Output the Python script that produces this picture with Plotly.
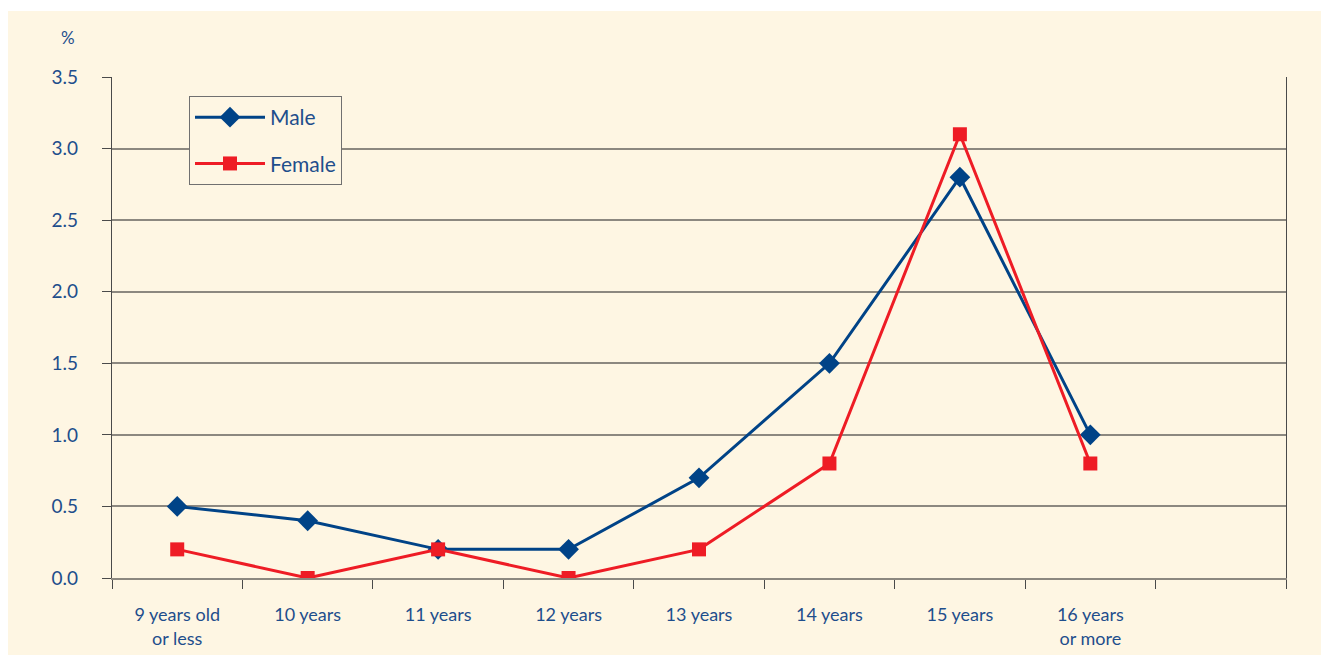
import plotly.graph_objects as go

categories = ["9 years old<br>or less", "10 years", "11 years", "12 years", "13 years",
              "14 years", "15 years", "16 years<br>or more"]
male = [0.5, 0.4, 0.2, 0.2, 0.7, 1.5, 2.8, 1.0]
female = [0.2, 0.0, 0.2, 0.0, 0.2, 0.8, 3.1, 0.8]
y_ticks = [0.0, 0.5, 1.0, 1.5, 2.0, 2.5, 3.0, 3.5]

xpos = list(range(len(categories)))
n_slots = 9
boundaries = [i - 0.5 for i in range(n_slots + 1)]

cream = "#FEF6E3"
text_blue = "#1E4E8C"
male_col = "#004387"
female_col = "#EE1C25"
grid_col = "#8C8880"
axis_col = "#4A4A4A"
font_family = "Lato, 'Noto Sans', sans-serif"

fig = go.Figure()
fig.add_trace(go.Scatter(
    x=xpos, y=male, name="Male", mode="lines+markers",
    line=dict(color=male_col, width=3),
    marker=dict(symbol="diamond", size=16, color=male_col),
    legendgroup="m",
))
fig.add_trace(go.Scatter(
    x=xpos, y=female, name="Female", mode="lines+markers",
    line=dict(color=female_col, width=3),
    marker=dict(symbol="square", size=14, color=female_col),
    legendgroup="f",
))

fig.update_layout(
    width=1321, height=655,
    margin=dict(l=112, r=35, t=77, b=77, autoexpand=False),
    paper_bgcolor="white",
    plot_bgcolor=cream,
    font=dict(family=font_family, color=text_blue, size=18),
    showlegend=True,
    legend=dict(
        x=(189 - 112) / 1174, y=(578 - 96) / 501, xanchor="left", yanchor="top",
        bgcolor=cream, bordercolor="#707070", borderwidth=1,
        font=dict(size=21, color=text_blue),
        tracegroupgap=16,
        itemwidth=70,
    ),
    shapes=[dict(
        type="rect", xref="paper", yref="paper", layer="below",
        x0=(8 - 112) / 1174, x1=(1321 - 112) / 1174 + 0.01,
        y0=(578 - 655) / 501 - 0.01, y1=(578 - 11) / 501,
        fillcolor=cream, line=dict(width=0),
    )],
    annotations=[dict(
        text="%", xref="paper", yref="paper",
        x=(68 - 112) / 1174, y=(578 - 37) / 501,
        xanchor="center", yanchor="middle", showarrow=False,
        font=dict(size=17, color=text_blue),
    )],
)

fig.update_xaxes(
    automargin=False,
    range=[-0.5, n_slots - 0.5],
    tickmode="array", tickvals=xpos, ticktext=categories,
    ticks="", showgrid=False, zeroline=False,
    showline=True, linecolor=grid_col, linewidth=1.5,
    ticklabelstandoff=20,
    tickfont=dict(size=18, color=text_blue),
    minor=dict(tickmode="array", tickvals=boundaries, ticks="outside",
               ticklen=9, tickwidth=1.2, tickcolor=axis_col, showgrid=False),
)
fig.update_yaxes(
    automargin=False,
    range=[0, 3.5], tickmode="array", tickvals=y_ticks,
    tickformat=".1f",
    ticks="outside", ticklen=9, tickwidth=1.2, tickcolor=axis_col,
    showgrid=True, gridcolor=grid_col, gridwidth=1.5,
    zeroline=False,
    showline=True, linecolor=axis_col, linewidth=1.2, mirror=True,
    ticklabelstandoff=20,
    tickfont=dict(size=19, color=text_blue),
)

fig.write_html("out.html")
